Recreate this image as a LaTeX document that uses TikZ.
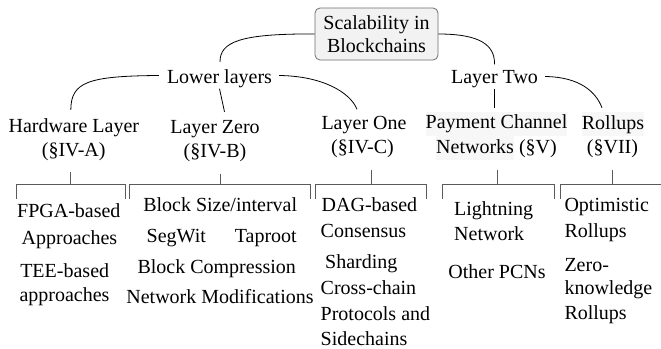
\documentclass[tikz,border=0pt]{standalone}
\usepackage{fontspec}
\setmainfont{Liberation Serif}
\newfontfamily\lserif{Liberation Serif}
\usetikzlibrary{calc}
\definecolor{rootfill}{HTML}{F2F2F2}
\definecolor{rootdraw}{HTML}{6E6E6E}
\definecolor{brk}{HTML}{5A5A5A}
\definecolor{hl}{HTML}{F7F7F7}
\newcommand\hlbox[1]{{\setlength\fboxsep{0pt}\colorbox{hl}{\strut#1}}}
\begin{document}
\begin{tikzpicture}[x=1pt,y=-1pt,
  every node/.style={font=\lserif\fontsize{20}{24}\selectfont, inner sep=0pt, text=black},
  txt/.style={anchor=base},
  txtw/.style={anchor=base west},
  lvl/.style={anchor=base, text height=14pt, text depth=5pt},
  rootbox/.style={draw=rootdraw, fill=rootfill, rounded corners=5pt, minimum width=123pt,
    minimum height=52pt, align=center, line width=0.8pt, font=\lserif\fontsize{20}{23}\selectfont},
  conn/.style={draw=black, line width=0.8pt},
  brace/.style={draw=brk, line width=0.9pt},
]
\useasboundingbox (0,0) rectangle (661,348);

% root and first level
\node[rootbox] (root) at (376.5,34) {Scalability in\\Blockchains};
\node[lvl] (low) at (219.5,83.5) {Lower layers};
\node[lvl] (two) at (494.5,83.5) {Layer Two};

% second level
\node[lvl] (hw) at (73.8,132) {Hardware Layer};
\node[lvl] (hwsec) at (73.7,156) {(\S IV-A)};
\node[lvl] (lz) at (215,133.5) {Layer Zero};
\node[lvl] (lzsec) at (215,157.5) {(\S IV-B)};
\node[lvl] (lo) at (364,129.5) {Layer One};
\node[lvl] (losec) at (362.5,153.5) {(\S IV-C)};
\node[lvl] (pcn) at (496.5,128.5) {\hlbox{Payment Channel}};
\node[lvl] (pcnsec) at (496.5,153) {\hlbox{Networks} (\S V)};
\node[lvl] (ru) at (613,129) {\hlbox{Rollups}};
\node[lvl] (rusec) at (612.5,153.5) {(\S VII)};

% connectors
\draw[conn] (root.west) .. controls (240,33.5) and (220,42) .. ([xshift=0.5pt,yshift=7.5pt]low.north);
\draw[conn] (root.east) .. controls (480,34) and (495,45) .. ([yshift=5pt]two.north);
\draw[conn] ([shift={(-8pt,3.5pt)}]low.west) .. controls (88,76) and (71,82) .. ([xshift=-3pt,yshift=8pt]hw.north);
\draw[conn] ([shift={(7pt,3.5pt)}]low.east) .. controls (322,76) and (350,92) .. ([xshift=-7pt,yshift=6pt]lo.north);
\draw[conn] (low.south) -- ([xshift=5pt,yshift=7.5pt]lz.north -| low.south);
\draw[conn] ([shift={(7pt,2.5pt)}]two.east) .. controls (580,77) and (596,92) .. ([xshift=-11pt,yshift=7pt]ru.north);
\draw[conn] (two.south) -- ([yshift=6.5pt]pcn.north -| two.south);

% brackets
\coordinate (hwT) at (70.7,184.5);
\coordinate (lzT) at (220,184.5);
\coordinate (loT) at (371.7,184.5);
\coordinate (pcnT) at (497.7,184.5);
\coordinate (ruT) at (612,184.5);
\draw[brace] ([yshift=-11pt]hwsec.south -| hwT) -- (hwT);
\draw[brace] ([yshift=-11pt]lzsec.south -| lzT) -- (lzT);
\draw[brace] ([yshift=-11pt]losec.south -| loT) -- (loT);
\draw[brace] ([yshift=-12pt]pcnsec.south -| pcnT) -- (pcnT);
\draw[brace] ([yshift=-11pt]rusec.south -| ruT) -- (ruT);
\draw[brace] (16,198.5) -- (16,184.5) -- (125,184.5) -- (125,198.5);
\draw[brace] (129.3,198.5) -- (129.3,184.5) -- (310.7,184.5) -- (310.7,198.5);
\draw[brace] (315.7,198.5) -- (315.7,184.5) -- (426.7,184.5) -- (426.7,198.5);
\draw[brace] (442.3,198.5) -- (442.3,184.5) -- (554,184.5) -- (554,198.5);
\draw[brace] (560,198.5) -- (560,184.5) -- (670,184.5);

% leaves: hardware
\node[txt] (fpga1) at (68.8,217.7) {FPGA-based};
\node[txt] (fpga2) at (69.5,244.3) {Approaches};
\node[txt] (tee1) at (64.7,277.7) {TEE-based};
\node[txt] (tee2) at (64.5,301.5) {approaches};
% leaves: layer zero
\node[txt] (bsize) at (220.2,211.7) {Block Size/interval};
\node[txt] (segwit) at (176.3,242.7) {SegWit};
\node[txt] (taproot) at (265.8,242.7) {Taproot};
\node[txt] (bcomp) at (216.7,273.3) {Block Compression};
\node[txt] (netmod) at (220,303) {Network Modifications};
% leaves: layer one
\node[txtw] (dag1) at (321.5,211.7) {DAG-based};
\node[txtw] (dag2) at (320.5,237.7) {Consensus};
\node[txtw] (shard) at (325,268) {Sharding};
\node[txtw] (cc1) at (320.5,294.3) {Cross-chain};
\node[txtw] (cc2) at (320.5,320) {Protocols and};
\node[txtw] (cc3) at (320.5,345) {Sidechains};
% leaves: PCN
\node[txtw] (ln1) at (454,215) {Lightning};
\node[txtw] (ln2) at (454,240) {Network};
\node[txt] (opcn) at (497,278.3) {Other PCNs};
% leaves: rollups
\node[txtw] (opt1) at (564.3,211.7) {Optimistic};
\node[txtw] (opt2) at (564.3,237.5) {Rollups};
\node[txtw] (zk1) at (564.3,271) {Zero-};
\node[txtw] (zk2) at (564.3,294.5) {knowledge};
\node[txtw] (zk3) at (564.3,319.5) {Rollups};
\end{tikzpicture}
\end{document}
